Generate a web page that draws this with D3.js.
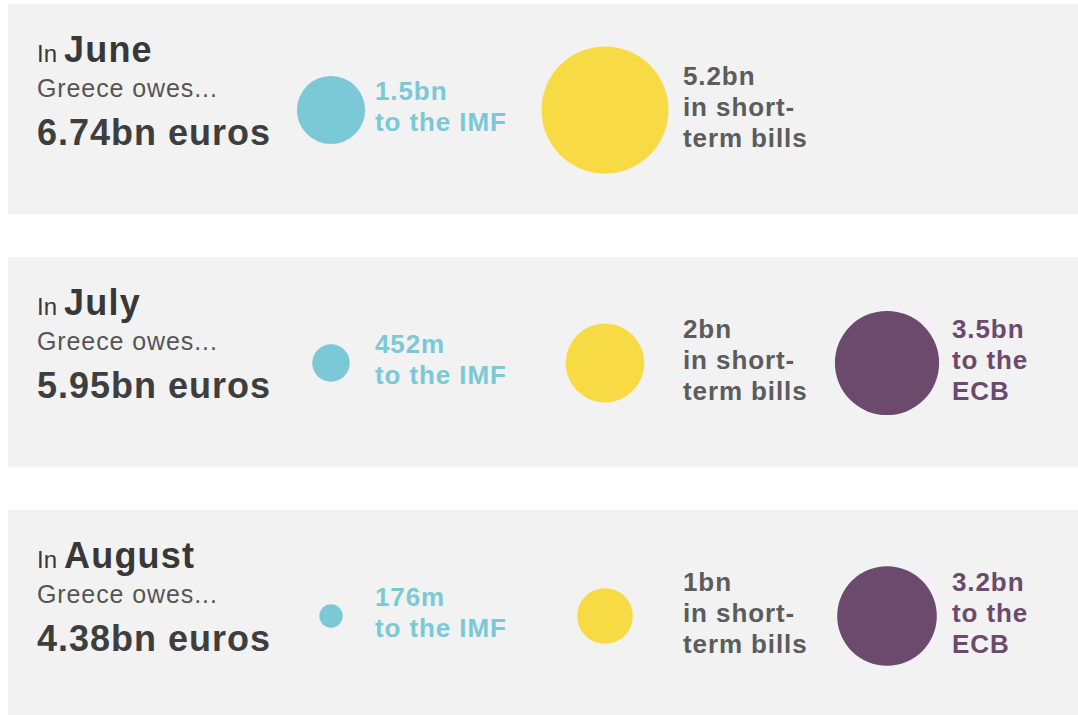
<!DOCTYPE html>
<html>
<head>
<meta charset="utf-8">
<script src="https://cdn.jsdelivr.net/npm/d3@7"></script>
<style>
  body { margin: 0; background: #fff; }
  svg { display: block; font-family: "Liberation Sans", Arial, Helvetica, sans-serif; }
</style>
</head>
<body>
<script>
// data
const months = ['June', 'July', 'August'];
const totals = [6.74, 5.95, 4.38];               // bn euros
const creditors = ['IMF', 'bills', 'ECB'];
const imfDue = [1.5, 0.452, 0.176];
const billsDue = [5.2, 2, 1];
const ecbDue = [null, 3.5, 3.2];
const creditorText = [['to the IMF'], ['in short-', 'term bills'], ['to the', 'ECB']];

const circleColors = ['#7bc8d6', '#f8da45', '#6b4a6d'];
const labelColors = ['#7bc8d6', '#5c5c5c', '#6b4a6d'];

const svgWidth = 1078;
const svgHeight = 715;

function fmt(v) {
    return v < 1 ? Math.round(v * 1000) + 'm' : v + 'bn';
}

const svg = d3.select('body')
              .append('svg')
              .attr('width', svgWidth)
              .attr('height', svgHeight);

// row bands (one grey panel per month)
const rowScale = d3.scaleBand()
                   .domain(months)
                   .range([4, 720])
                   .paddingInner(0.17);

// circle columns and label columns
const colScale = d3.scaleOrdinal()
                   .domain(creditors)
                   .range([331, 605, 887]);
const labelScale = d3.scaleOrdinal()
                     .domain(creditors)
                     .range([375, 683, 952]);

// circle area ~ amount
const rScale = d3.scaleSqrt()
                 .domain([0, 5.2])
                 .range([0, 63.5]);

const rows = months.map((m, i) => ({
    month: m,
    total: totals[i],
    items: [imfDue[i], billsDue[i], ecbDue[i]]
}));

const row = svg.selectAll('g.row')
               .data(rows)
               .enter()
               .append('g')
               .attr('class', 'row')
               .attr('transform', d => 'translate(0,' + rowScale(d.month) + ')');

row.append('rect')
   .attr('x', 8)
   .attr('y', 0)
   .attr('width', svgWidth - 8)
   .attr('height', rowScale.bandwidth())
   .attr('fill', '#f2f2f2');

// left text block
const title = row.append('text')
                 .attr('x', 37)
                 .attr('y', 58)
                 .attr('fill', '#383838');
title.append('tspan')
     .style('font-size', '24px')
     .text('In');
title.append('tspan')
     .attr('dx', 7)
     .style('font-size', '36px')
     .style('font-weight', 'bold')
     .style('letter-spacing', '1.2px')
     .text(d => d.month);

row.append('text')
   .attr('x', 37)
   .attr('y', 93)
   .attr('fill', '#555')
   .style('font-size', '25px')
   .style('letter-spacing', '0.9px')
   .text('Greece owes...');

row.append('text')
   .attr('x', 37)
   .attr('y', 141)
   .attr('fill', '#3e3e3e')
   .style('font-size', '36px')
   .style('font-weight', 'bold')
   .style('letter-spacing', '1px')
   .text(d => d.total + 'bn euros');

// circles + labels
const cy = rowScale.bandwidth() / 2 + 1;
const lineH = 31;

const item = row.selectAll('g.item')
                .data(d => d.items.map((v, j) => ({value: v, j: j})).filter(e => e.value != null))
                .enter()
                .append('g')
                .attr('class', 'item');

item.append('circle')
    .attr('cx', d => colScale(creditors[d.j]))
    .attr('cy', cy)
    .attr('r', d => rScale(d.value))
    .attr('fill', d => circleColors[d.j]);

item.append('text')
    .attr('fill', d => labelColors[d.j])
    .style('font-size', '26px')
    .style('font-weight', 'bold')
    .style('letter-spacing', '0.9px')
    .each(function(d) {
        const lines = [fmt(d.value)].concat(creditorText[d.j]);
        const y0 = cy - (lines.length - 1) * lineH / 2 + 6;
        d3.select(this).selectAll('tspan')
          .data(lines)
          .enter()
          .append('tspan')
          .attr('x', labelScale(creditors[d.j]))
          .attr('y', (t, k) => y0 + k * lineH)
          .text(t => t);
    });
</script>
</body>
</html>
